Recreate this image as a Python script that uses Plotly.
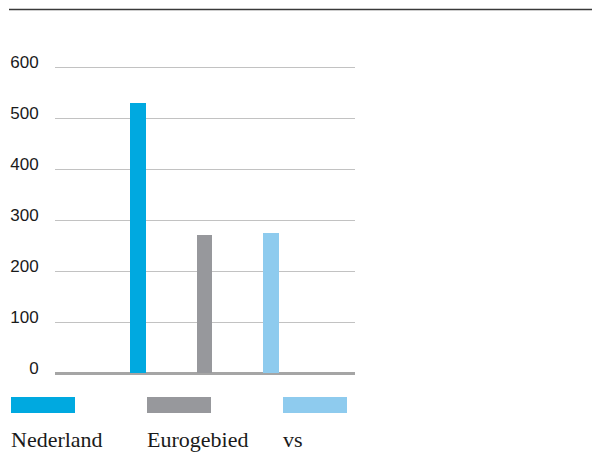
import plotly.graph_objects as go

categories = ["Nederland", "Eurogebied", "vs"]
values = [529, 271, 275]
colors = ["#00A9E0", "#97989C", "#8ECBEE"]
y_ticks = [0, 100, 200, 300, 400, 500, 600]

W, H = 592, 464
px_l, px_r, px_b = 55, 355, 373
y_max = 602
px_per_unit = 306 / 600
px_t = px_b - y_max * px_per_unit

fig = go.Figure()
fig.add_trace(go.Bar(
    x=list(range(len(categories))), y=values,
    marker=dict(color=colors, line=dict(width=0)),
    width=0.24, showlegend=False, hoverinfo="skip",
))

shapes = [
    dict(type="line", xref="paper", yref="paper",
         x0=9 / W, x1=1, y0=1 - 9.5 / H, y1=1 - 9.5 / H,
         line=dict(color="#3a3a3a", width=1.5)),
]
annotations = []
leg_x = [11, 147, 283]
for i, (name, col) in enumerate(zip(categories, colors)):
    x0 = leg_x[i]
    shapes.append(dict(type="rect", xref="paper", yref="paper",
                       x0=x0 / W, x1=(x0 + 64) / W,
                       y0=1 - 413 / H, y1=1 - 397 / H,
                       fillcolor=col, line=dict(width=0)))
    annotations.append(dict(text=name, xref="paper", yref="paper",
                            x=(x0 - 2) / W, y=1 - 439 / H,
                            xanchor="left", yanchor="middle", showarrow=False,
                            font=dict(family="Liberation Serif, serif", size=22, color="#1a1a1a")))

fig.update_layout(
    width=W, height=H,
    margin=dict(l=0, r=0, t=0, b=0),
    paper_bgcolor="white", plot_bgcolor="white",
    shapes=shapes, annotations=annotations,
    xaxis=dict(domain=[px_l / W, px_r / W], range=[-1.248, 3.263],
               showticklabels=False, showgrid=False, zeroline=False,
               automargin=False, fixedrange=True),
    yaxis=dict(domain=[1 - px_b / H, 1 - px_t / H], range=[0, y_max],
               tickvals=y_ticks, ticktext=[str(v) for v in y_ticks],
               showgrid=True, gridcolor="#c2c2c2", gridwidth=1.3,
               zeroline=True, zerolinecolor="#a5a5a5", zerolinewidth=2.5,
               ticks="outside", ticklen=12, tickcolor="rgba(0,0,0,0)",
               ticklabelshift=-5,
               tickfont=dict(family="Liberation Sans, Arial, sans-serif", size=17, color="#1a1a1a"),
               automargin=False, fixedrange=True),
    bargap=0,
)

fig.write_html("out.html")
